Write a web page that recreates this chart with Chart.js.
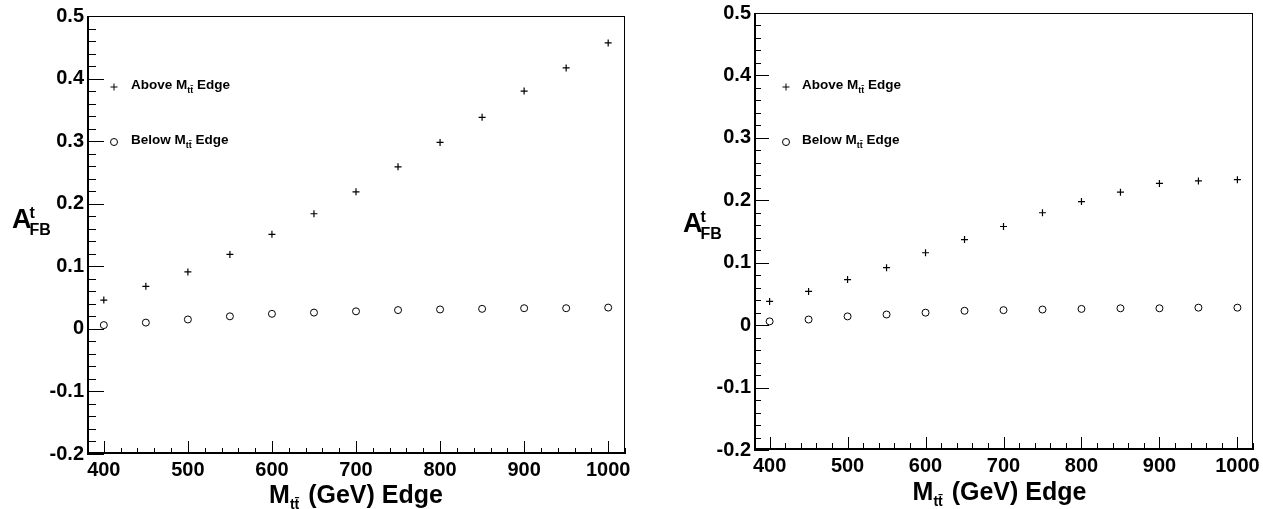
<!DOCTYPE html>
<html>
<head>
<meta charset="utf-8">
<script src="https://cdn.jsdelivr.net/npm/chart.js@4.4.1/dist/chart.umd.min.js"></script>
<style>
  html, body { margin: 0; padding: 0; background: #fff; }
  #wrap { position: relative; width: 1263px; height: 509px; }
  canvas { position: absolute; top: 0; }
</style>
</head>
<body>
<div id="wrap">
  <canvas id="chartLeft" width="632" height="509" style="left:0"></canvas>
  <canvas id="chartRight" width="631" height="509" style="left:632px"></canvas>
</div>
<script>
// valores
const masses = [400, 450, 500, 550, 600, 650, 700, 750, 800, 850, 900, 950, 1000];
const aboveLeft = [0.046, 0.068, 0.091, 0.119, 0.151, 0.184, 0.219, 0.259, 0.298, 0.338, 0.380, 0.417, 0.457];
const belowLeft = [0.006, 0.010, 0.015, 0.020, 0.024, 0.026, 0.028, 0.030, 0.031, 0.032, 0.033, 0.033, 0.034];
const aboveRight = [0.038, 0.054, 0.073, 0.092, 0.116, 0.137, 0.158, 0.180, 0.198, 0.213, 0.227, 0.231, 0.233];
const belowRight = [0.006, 0.009, 0.014, 0.017, 0.020, 0.023, 0.024, 0.025, 0.026, 0.027, 0.027, 0.028, 0.028];
const xTicks = [400, 500, 600, 700, 800, 900, 1000];
const yTicks = [-0.2, -0.1, 0, 0.1, 0.2, 0.3, 0.4, 0.5];
const seriesNames = ['Above', 'Below'];

const FAMILY = '"Liberation Sans", Arial, sans-serif';
const font = (size) => `bold ${size}px ${FAMILY}`;

// dibuja texto con partes en sub/superindice
function drawParts(ctx, parts, x, y) {
  let cx = x;
  parts.forEach(p => {
    ctx.font = font(p.size);
    ctx.fillText(p.text, cx, y + (p.dy || 0));
    cx += ctx.measureText(p.text).width + (p.gap || 0);
  });
  return cx;
}
function partsWidth(ctx, parts) {
  let w = 0;
  parts.forEach(p => { ctx.font = font(p.size); w += ctx.measureText(p.text).width + (p.gap || 0); });
  return w;
}

function marker(ctx, style, x, y) {
  const opts = { pointStyle: style, radius: 3.5, rotation: 0, borderWidth: 1 };
  if (Chart.helpers && Chart.helpers.drawPoint) {
    Chart.helpers.drawPoint(ctx, opts, x, y);
  } else {
    ctx.beginPath();
    if (style === 'cross') {
      ctx.moveTo(x - 3.5, y); ctx.lineTo(x + 3.5, y);
      ctx.moveTo(x, y - 3.5); ctx.lineTo(x, y + 3.5);
    } else {
      ctx.arc(x, y, 3.5, 0, Math.PI * 2);
    }
    ctx.stroke();
  }
}

const rootStyle = {
  id: 'rootStyle',
  afterDraw(chart, args, o) {
    const ctx = chart.ctx;
    const a = chart.chartArea;
    const xs = chart.scales.x, ys = chart.scales.y;
    ctx.save();
    ctx.strokeStyle = '#000';
    ctx.fillStyle = '#000';

    // marco
    ctx.lineWidth = 1;
    ctx.strokeRect(a.left + 0.5, a.top + 0.5, a.right - a.left - 1, a.bottom - a.top - 1);
    ctx.lineWidth = 2;
    ctx.beginPath();
    ctx.moveTo(a.left + 1, a.top); ctx.lineTo(a.left + 1, a.bottom);
    ctx.moveTo(a.left, a.bottom - 1); ctx.lineTo(a.right, a.bottom - 1);
    ctx.stroke();

    // marcas hacia dentro
    ctx.lineWidth = 1;
    ctx.beginPath();
    for (let k = Math.round(ys.min / 0.02); k <= Math.round(ys.max / 0.02); k++) {
      const py = Math.round(ys.getPixelForValue(k * 0.02)) + 0.5;
      const len = k % 5 === 0 ? o.yMajor : o.yMinor;
      ctx.moveTo(a.left, py); ctx.lineTo(a.left + len, py);
    }
    for (let k = Math.ceil(xs.min / 20); k * 20 <= xs.max; k++) {
      const px = Math.round(xs.getPixelForValue(k * 20)) + 0.5;
      const len = (k * 20) % 100 === 0 ? o.xMajor : o.xMinor;
      ctx.moveTo(px, a.bottom); ctx.lineTo(px, a.bottom - len);
    }
    ctx.stroke();

    // leyenda
    ctx.lineWidth = 1;
    ctx.fillStyle = 'rgba(0,0,0,0)';
    const lg = o.legend;
    chart.data.datasets.forEach((ds, i) => {
      marker(ctx, ds.pointStyle, lg.mx, lg.my[i]);
    });
    ctx.fillStyle = '#000';
    ctx.textBaseline = 'alphabetic';
    ctx.textAlign = 'left';
    chart.data.datasets.forEach((ds, i) => {
      drawParts(ctx, [
        { text: ds.label + ' M', size: 13.5 },
        { text: 'tt\u0304', size: 9, dy: 4 },
        { text: ' Edge', size: 13.5 }
      ], lg.tx, lg.base[i]);
    });

    // titulo eje y
    const yt = o.yTitle;
    ctx.font = font(27);
    ctx.fillText('A', yt.x, yt.base);
    const wA = ctx.measureText('A').width;
    ctx.font = font(16);
    ctx.fillText('t', yt.x + wA - 2, yt.base - 10);
    ctx.fillText('FB', yt.x + wA - 2, yt.base + 7);

    // titulo eje x
    const xParts = [
      { text: 'M', size: 25 },
      { text: 'tt\u0304', size: 14, dy: 6, gap: 2 },
      { text: ' (GeV) Edge', size: 25 }
    ];
    const w = partsWidth(ctx, xParts);
    drawParts(ctx, xParts, (a.left + a.right) / 2 - w / 2 + o.xTitle.shift, o.xTitle.base);

    ctx.restore();
  }
};

function makeChart(id, above, below, g) {
  const H = 509;
  const W = document.getElementById(id).width;
  const tickFont = { family: FAMILY, size: 20, weight: 'bold' };
  return new Chart(document.getElementById(id), {
    type: 'scatter',
    data: {
      datasets: [
        { label: seriesNames[0], data: masses.map((m, i) => ({ x: m, y: above[i] })),
          pointStyle: 'cross', pointRadius: 3.5, borderColor: '#000', borderWidth: 1.2, backgroundColor: 'rgba(0,0,0,0)' },
        { label: seriesNames[1], data: masses.map((m, i) => ({ x: m, y: below[i] })),
          pointStyle: 'circle', pointRadius: 3.5, borderColor: '#000', borderWidth: 1, backgroundColor: 'rgba(0,0,0,0)' }
      ]
    },
    options: {
      responsive: false,
      animation: false,
      layout: { padding: { left: 0, top: g.top, right: W - g.right, bottom: 0 } },
      plugins: {
        legend: { display: false },
        tooltip: { enabled: false },
        rootStyle: g
      },
      scales: {
        x: {
          type: 'linear', min: 380, max: 1020,
          grid: { display: false, drawTicks: false },
          border: { display: false },
          ticks: { font: tickFont, color: '#000', padding: 4, maxRotation: 0,
                   callback: v => String(v) },
          afterBuildTicks: s => { s.ticks = xTicks.map(v => ({ value: v })); },
          afterFit: s => { s.height = H - g.bottom; s.paddingLeft = 0; s.paddingRight = 0; }
        },
        y: {
          type: 'linear', min: -0.2, max: 0.5,
          grid: { display: false, drawTicks: false },
          border: { display: false },
          ticks: { font: tickFont, color: '#000', padding: 3,
                   callback: v => (Math.abs(v) < 1e-9 ? '0' : v.toFixed(1)) },
          afterBuildTicks: s => { s.ticks = yTicks.map(v => ({ value: v })); },
          afterFit: s => { s.width = g.left; s.paddingTop = 0; s.paddingBottom = 0; }
        }
      }
    },
    plugins: [rootStyle]
  });
}

makeChart('chartLeft', aboveLeft, belowLeft, {
  left: 87, top: 16, right: 625, bottom: 454,
  yMajor: 17, yMinor: 9, xMajor: 13, xMinor: 6,
  legend: { mx: 114, tx: 131, my: [87, 142], base: [89, 144] },
  yTitle: { x: 12, base: 228 },
  xTitle: { base: 503, shift: 0 }
});

makeChart('chartRight', aboveRight, belowRight, {
  left: 122, top: 13, right: 621, bottom: 450,
  yMajor: 15, yMinor: 7, xMajor: 13, xMinor: 7,
  legend: { mx: 154, tx: 170, my: [87, 142], base: [89, 144] },
  yTitle: { x: 51, base: 232 },
  xTitle: { base: 500, shift: -4 }
});
</script>
</body>
</html>
